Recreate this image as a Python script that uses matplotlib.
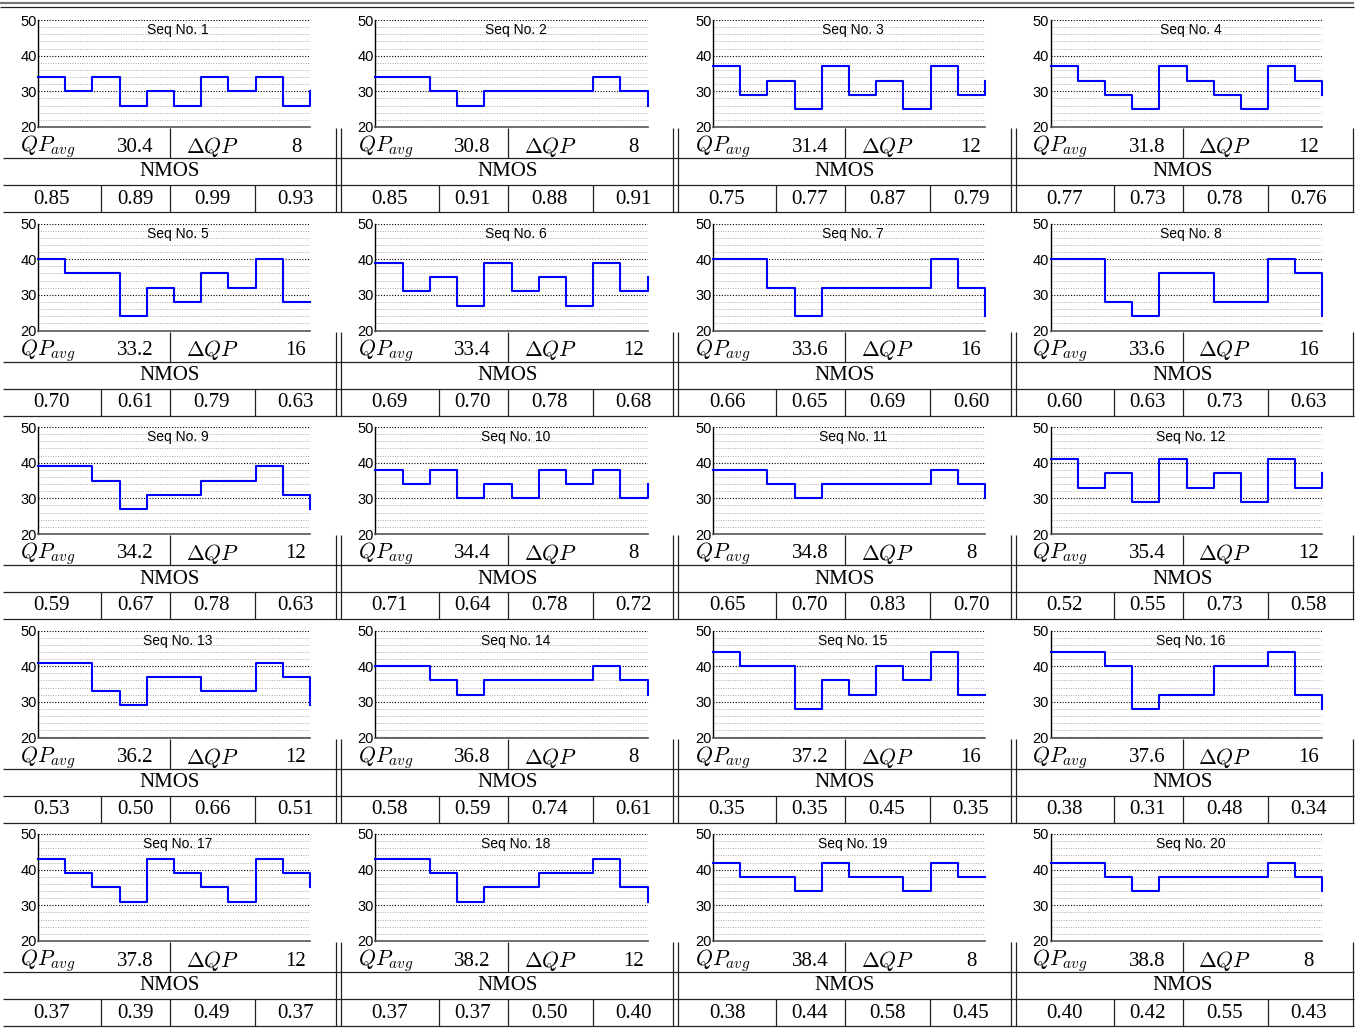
import numpy as np
import matplotlib
matplotlib.use("Agg")
import matplotlib.pyplot as plt

plt.rcParams["mathtext.fontset"] = "cm"

# QP sequences (stairs: 10 steps + final value)
qp_seqs = [
    [34, 30, 34, 26, 30, 26, 34, 30, 34, 26, 30],
    [34, 34, 30, 26, 30, 30, 30, 30, 34, 30, 26],
    [37, 29, 33, 25, 37, 29, 33, 25, 37, 29, 33],
    [37, 33, 29, 25, 37, 33, 29, 25, 37, 33, 29],
    [40, 36, 36, 24, 32, 28, 36, 32, 40, 28, 28],
    [39, 31, 35, 27, 39, 31, 35, 27, 39, 31, 35],
    [40, 40, 32, 24, 32, 32, 32, 32, 40, 32, 24],
    [40, 40, 28, 24, 36, 36, 28, 28, 40, 36, 24],
    [39, 39, 35, 27, 31, 31, 35, 35, 39, 31, 27],
    [38, 34, 38, 30, 34, 30, 38, 34, 38, 30, 34],
    [38, 38, 34, 30, 34, 34, 34, 34, 38, 34, 30],
    [41, 33, 37, 29, 41, 33, 37, 29, 41, 33, 37],
    [41, 41, 33, 29, 37, 37, 33, 33, 41, 37, 29],
    [40, 40, 36, 32, 36, 36, 36, 36, 40, 36, 32],
    [44, 40, 40, 28, 36, 32, 40, 36, 44, 32, 32],
    [44, 44, 40, 28, 32, 32, 40, 40, 44, 32, 28],
    [43, 39, 35, 31, 43, 39, 35, 31, 43, 39, 35],
    [43, 43, 39, 31, 35, 35, 39, 39, 43, 35, 31],
    [42, 38, 38, 34, 42, 38, 38, 34, 42, 38, 38],
    [42, 42, 38, 34, 38, 38, 38, 38, 42, 38, 34],
]
qp_avg = ["30.4", "30.8", "31.4", "31.8", "33.2", "33.4", "33.6", "33.6", "34.2", "34.4",
          "34.8", "35.4", "36.2", "36.8", "37.2", "37.6", "37.8", "38.2", "38.4", "38.8"]
delta_qp = ["8", "8", "12", "12", "16", "12", "16", "16", "12", "8",
            "8", "12", "12", "8", "16", "16", "12", "12", "8", "8"]
nmos = [
    ["0.85", "0.89", "0.99", "0.93"], ["0.85", "0.91", "0.88", "0.91"],
    ["0.75", "0.77", "0.87", "0.79"], ["0.77", "0.73", "0.78", "0.76"],
    ["0.70", "0.61", "0.79", "0.63"], ["0.69", "0.70", "0.78", "0.68"],
    ["0.66", "0.65", "0.69", "0.60"], ["0.60", "0.63", "0.73", "0.63"],
    ["0.59", "0.67", "0.78", "0.63"], ["0.71", "0.64", "0.78", "0.72"],
    ["0.65", "0.70", "0.83", "0.70"], ["0.52", "0.55", "0.73", "0.58"],
    ["0.53", "0.50", "0.66", "0.51"], ["0.58", "0.59", "0.74", "0.61"],
    ["0.35", "0.35", "0.45", "0.35"], ["0.38", "0.31", "0.48", "0.34"],
    ["0.37", "0.39", "0.49", "0.37"], ["0.37", "0.37", "0.50", "0.40"],
    ["0.38", "0.44", "0.58", "0.45"], ["0.40", "0.42", "0.55", "0.43"],
]

W, H = 1364, 1028
fig = plt.figure(figsize=(W / 100, H / 100), dpi=100)

# overlay in pixel coords for the table
ov = fig.add_axes([0, 0, 1, 1])
ov.set_xlim(0, W)
ov.set_ylim(H, 0)
ov.axis("off")

serif = "Liberation Serif"
lc = "#222222"
lw = 0.9

def hl(y, x0=3, x1=1354, **kw):
    ov.plot([x0, x1], [y, y], color=kw.get("c", lc), lw=kw.get("lw", lw), solid_capstyle="butt")

def vl(x, y0, y1):
    ov.plot([x, x], [y0, y1], color=lc, lw=lw, solid_capstyle="butt")

hl(2.5, 0, 1354, c="#777777", lw=1.6)
hl(7, 0, 1354)

col_w = 337.5
row_h = 203.5
for i in range(20):
    r, c = divmod(i, 4)
    cx = c * col_w
    y0 = 20 + r * row_h

    ax = fig.add_axes([(cx + 38) / W, 1 - (y0 + 107) / H, 272 / W, 107 / H])
    x = np.arange(len(qp_seqs[i]))
    ax.step(x, qp_seqs[i], where="post", color="#0000ff", lw=1.5, clip_on=False, zorder=5)
    ax.set_xlim(0, 10)
    ax.set_ylim(20, 50)
    ax.set_yticks([20, 30, 40, 50])
    ax.set_yticks(np.arange(22, 50, 2), minor=True)
    ax.set_xticks([])
    ax.grid(True, which="major", axis="y", color="black", ls=(0, (1, 1.5)), lw=0.8)
    ax.grid(True, which="minor", axis="y", color="#aaaaaa", ls=(0, (1, 1.5)), lw=0.7)
    ax.tick_params(axis="y", which="both", length=0, pad=1, labelsize=10.5)
    for lab in ax.get_yticklabels():
        lab.set_fontfamily("Liberation Sans")
    for s in ["top", "right"]:
        ax.spines[s].set_visible(False)
    ax.spines["left"].set_linewidth(1.0)
    ax.spines["bottom"].set_color("#555555")
    ax.spines["bottom"].set_linewidth(1.2)
    ax.text(0.515, 0.905, f"Seq No. {i + 1}", transform=ax.transAxes, ha="center", va="center",
            fontsize=10, family="Liberation Sans")

    # QP row
    ty = y0 + 127
    ov.text(cx + 20, ty, r"$QP_{avg}$", fontsize=15.5, ha="left", va="center")
    ov.text(cx + 135, ty, qp_avg[i], fontsize=15, family=serif, ha="center", va="center")
    ov.text(cx + 186, ty, r"$\Delta QP$", fontsize=15.5, ha="left", va="center")
    ov.text(cx + 296, ty, delta_qp[i], fontsize=15, family=serif, ha="center", va="center")
    vl(cx + 170, y0 + 108, y0 + 138)

    ov.text(cx + 170, y0 + 152, "NMOS", fontsize=15, family=serif, ha="center", va="center")
    for k, xc in enumerate([52, 135, 212, 296]):
        ov.text(cx + xc, y0 + 179, nmos[i][k], fontsize=15, family=serif, ha="center", va="center")
    for xs in [101, 170, 255]:
        vl(cx + xs, y0 + 165, y0 + 192)

    if c < 3:
        vl(cx + 335.5, y0 + 108, y0 + 192)
        vl(cx + 340.5, y0 + 108, y0 + 192)
    else:
        vl(1353, y0 + 108, y0 + 192)

    if c == 0:
        hl(y0 + 138)
        hl(y0 + 165)
        hl(y0 + 192)

fig.savefig("out.png", dpi=100)
